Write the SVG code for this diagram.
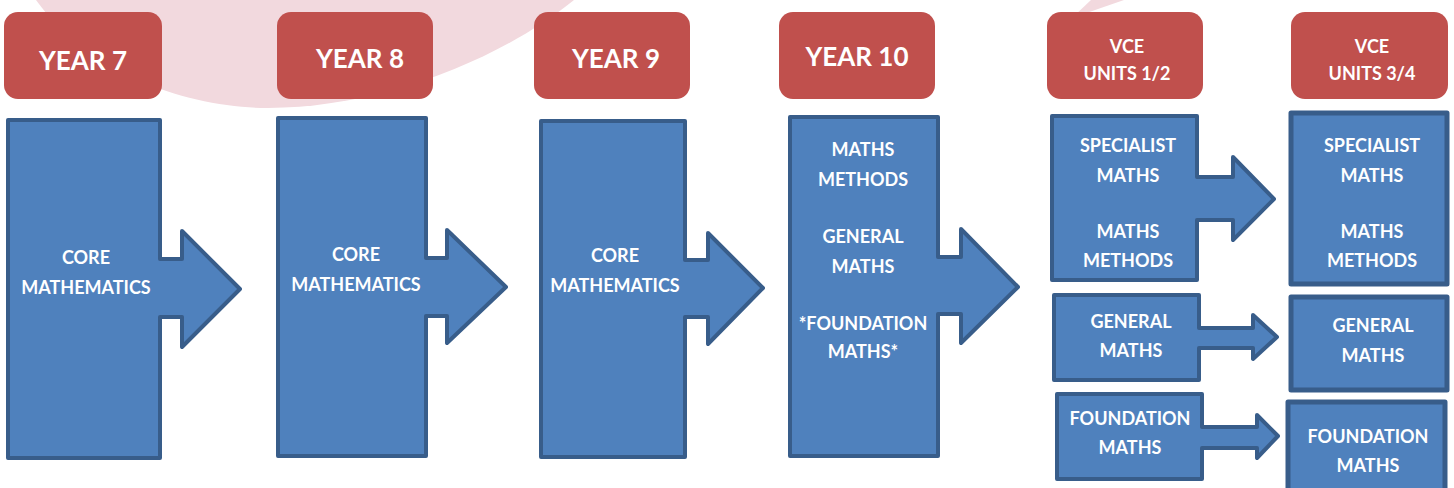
<svg xmlns="http://www.w3.org/2000/svg" width="1454" height="488" viewBox="0 0 1454 488">
  <style>
    .bg { fill: #f2d9de; }
    .hdr { fill: #c0504d; }
    .blk { fill: #4f81bd; stroke: #385d8a; stroke-width: 4; stroke-linejoin: round; }
    .blk5 { fill: #4f81bd; stroke: #385d8a; stroke-width: 5; stroke-linejoin: round; }
    text { font-family: Lato, "Liberation Sans", sans-serif; font-weight: bold; fill: #ffffff; text-anchor: middle; }
    .big { font-size: 26px; }
    .sm { font-size: 18px; }
  </style>
  <rect width="1454" height="488" fill="#ffffff"/>
  <g id="background">
    <path class="bg" d="M36,0 C90,75 190,108 268,108 C380,108 500,60 574,0 Z"/>
    <polygon class="bg" points="1091,0 1124,0 1072,18"/>
  </g>
  <g id="year7">
    <rect class="hdr" x="4" y="12" width="158" height="87" rx="14"/>
    <text class="big" x="83" y="70">YEAR 7</text>
    <path class="blk" d="M8,120 H160 V259 H182 V231 L240,289 L182,347 V317 H160 V458 H8 Z"/>
    <text class="sm" x="86" y="264">CORE</text>
    <text class="sm" x="86" y="294">MATHEMATICS</text>
  </g>
  <g id="year8">
    <rect class="hdr" x="277" y="12" width="156" height="87" rx="14"/>
    <text class="big" x="360" y="68">YEAR 8</text>
    <path class="blk" d="M278,118 H426 V258 H447 V230 L506,287 L447,343 V316 H426 V456 H278 Z"/>
    <text class="sm" x="356" y="261">CORE</text>
    <text class="sm" x="356" y="291">MATHEMATICS</text>
  </g>
  <g id="year9">
    <rect class="hdr" x="534" y="12" width="156" height="87" rx="14"/>
    <text class="big" x="616" y="68">YEAR 9</text>
    <path class="blk" d="M541,121 H685 V260 H708 V233 L763,288 L708,344 V317 H685 V457 H541 Z"/>
    <text class="sm" x="615" y="262">CORE</text>
    <text class="sm" x="615" y="292">MATHEMATICS</text>
  </g>
  <g id="year10">
    <rect class="hdr" x="779" y="12" width="156" height="87" rx="14"/>
    <text class="big" x="857" y="66">YEAR 10</text>
    <path class="blk" d="M790,117 H938 V257 H961 V229 L1018,287 L961,343 V314 H938 V456 H790 Z"/>
    <text class="sm" x="863" y="156">MATHS</text>
    <text class="sm" x="863" y="186">METHODS</text>
    <text class="sm" x="863" y="243">GENERAL</text>
    <text class="sm" x="863" y="273">MATHS</text>
    <text class="sm" x="863" y="330">*FOUNDATION</text>
    <text class="sm" x="863" y="358">MATHS*</text>
  </g>
  <g id="vce12-header">
    <rect class="hdr" x="1047" y="12" width="156" height="87" rx="14"/>
    <text class="sm" x="1127" y="53">VCE</text>
    <text class="sm" x="1127" y="80">UNITS 1/2</text>
  </g>
  <g id="vce34-header">
    <rect class="hdr" x="1291" y="12" width="157" height="87" rx="14"/>
    <text class="sm" x="1372" y="53">VCE</text>
    <text class="sm" x="1372" y="80">UNITS 3/4</text>
  </g>
  <g id="vce12-specialist-methods">
    <path class="blk" d="M1052,116 H1197 V177 H1233 V157 L1274,199 L1233,240 V220 H1197 V280 H1052 Z"/>
    <text class="sm" x="1128" y="152">SPECIALIST</text>
    <text class="sm" x="1128" y="182">MATHS</text>
    <text class="sm" x="1128" y="238">MATHS</text>
    <text class="sm" x="1128" y="267">METHODS</text>
  </g>
  <g id="vce12-general">
    <path class="blk" d="M1054,295 H1199 V328 H1253 V315 L1277,337 L1253,359 V348 H1199 V380 H1054 Z"/>
    <text class="sm" x="1131" y="328">GENERAL</text>
    <text class="sm" x="1131" y="357">MATHS</text>
  </g>
  <g id="vce12-foundation">
    <path class="blk" d="M1057,394 H1202 V427 H1257 V415 L1278,436 L1257,458 V448 H1202 V479 H1057 Z"/>
    <text class="sm" x="1130" y="425">FOUNDATION</text>
    <text class="sm" x="1130" y="454">MATHS</text>
  </g>
  <g id="vce34-specialist-methods">
    <rect class="blk5" x="1291" y="113" width="156" height="171"/>
    <text class="sm" x="1372" y="152">SPECIALIST</text>
    <text class="sm" x="1372" y="182">MATHS</text>
    <text class="sm" x="1372" y="238">MATHS</text>
    <text class="sm" x="1372" y="267">METHODS</text>
  </g>
  <g id="vce34-general">
    <rect class="blk5" x="1291" y="297" width="156" height="93"/>
    <text class="sm" x="1373" y="332">GENERAL</text>
    <text class="sm" x="1373" y="362">MATHS</text>
  </g>
  <g id="vce34-foundation">
    <rect class="blk5" x="1288" y="402" width="157" height="96"/>
    <text class="sm" x="1368" y="443">FOUNDATION</text>
    <text class="sm" x="1368" y="472">MATHS</text>
  </g>
  <g id="connectors"></g>
</svg>
